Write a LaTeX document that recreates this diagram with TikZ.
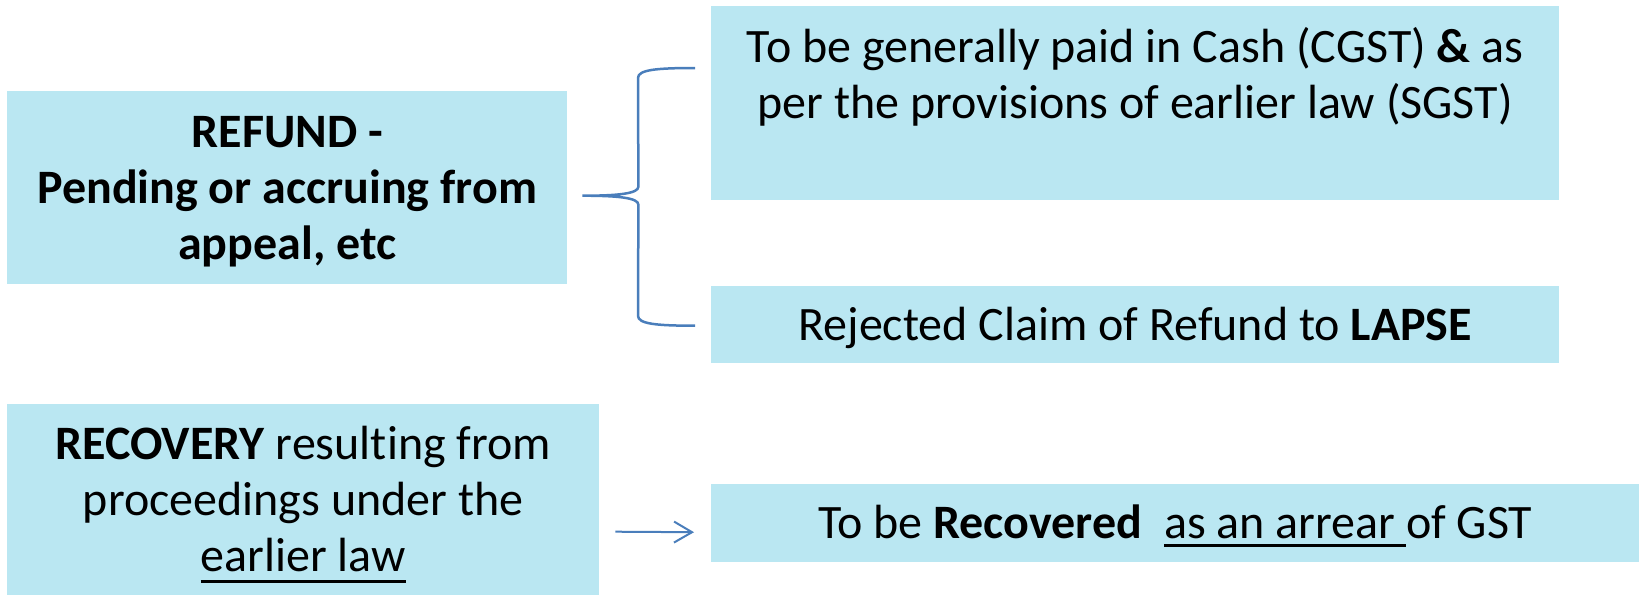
\documentclass[tikz,border=0pt]{standalone}
\usepackage{fontspec}
\setmainfont{Carlito}[Ligatures=NoCommon]
\usetikzlibrary{calc,arrows.meta}
\definecolor{boxfill}{RGB}{186,231,242}
\definecolor{linkblue}{RGB}{74,126,187}
% line strut: 43.5pt above and 12.5pt below the baseline
\newcommand{\ls}{\rule[-12.5pt]{0pt}{56pt}}
% thick underline that keeps the word widths unchanged
\newcommand{\thickul}[2][-8pt]{\setbox0\hbox{#2}\rlap{\rule[#1]{\wd0}{3pt}}\box0}
\tikzset{
  box/.style={fill=boxfill, inner sep=0pt, anchor=north west, align=center,
              font=\fontsize{48}{56}\selectfont},
  brace/.style={draw=linkblue, line width=2.5pt},
  link/.style={draw=linkblue, line width=2pt, -{Straight Barb[length=18pt,width=21pt,line width=2pt]}}
}
\begin{document}
\begin{tikzpicture}[x=1pt,y=-1pt]
\useasboundingbox (0,0) rectangle (1644,595);

% boxes
\node[box, minimum width=560pt, minimum height=193pt] (A) at (7,91)
  {\ls\textbf{REFUND -}\\ \ls\textbf{Pending or accruing from}\\ \ls\textbf{appeal, etc}};
\node[box, minimum width=848pt, minimum height=194pt] (B) at (711,6)
  {\ls To be generally paid in Cash (CGST) \textbf{\&} as\\ \ls per the provisions of earlier law (SGST)\\ \ls};
\node[box, minimum width=848pt, minimum height=77pt] (C) at (711,286)
  {\ls Rejected Claim of Refund to \textbf{LAPSE}};
\node[box, minimum width=592pt, minimum height=191pt] (D) at (7,404)
  {\ls\textbf{RECOVERY} resulting from\\ \ls proceedings under the\\ \ls\thickul[-12pt]{earlier law}};
\node[box, minimum width=928pt, minimum height=78pt] (E) at (711,484)
  {\ls To be \textbf{Recovered}\ \ \thickul{as an arrear\ }of GST};

% brace joining the refund box to its two outcomes
\coordinate (tip) at ($(A.east)+(15,8)$);
\coordinate (btop) at ($(B.north west)+(-16,62)$);
\coordinate (bbot) at ($(C.west)+(-16,1)$);
\path[brace] (btop) .. controls ($(btop)+(-40,0)$) and ($(btop)+(-57,2)$) .. ($(btop)+(-57,10)$)
  -- ($(tip)+(56,-9)$) .. controls ($(tip)+(56,-2)$) and ($(tip)+(35,0)$) .. (tip)
  .. controls ($(tip)+(35,0)$) and ($(tip)+(56,2)$) .. ($(tip)+(56,9)$)
  -- ($(bbot)+(-57,-10)$) .. controls ($(bbot)+(-57,-2)$) and ($(bbot)+(-40,0)$) .. (bbot);

% arrow from recovery to its outcome
\draw[link] ($(D.east)+(16,32)$) -- ($(E.west)+(-17,9)$);
\end{tikzpicture}
\end{document}
